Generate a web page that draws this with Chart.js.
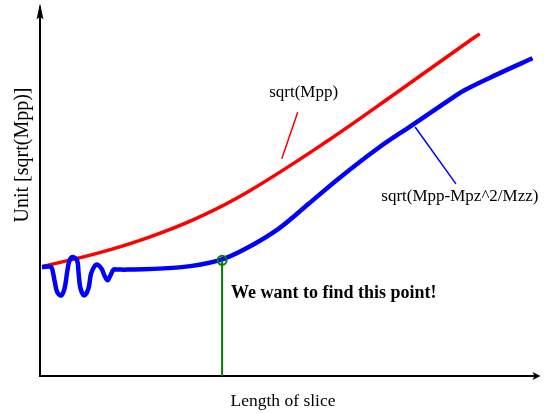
<!DOCTYPE html>
<html><head><meta charset="utf-8">
<script src="https://cdn.jsdelivr.net/npm/chart.js@4/dist/chart.umd.min.js"></script>
<style>html,body{margin:0;padding:0;background:#fff;overflow:hidden}#wrap{width:544px;height:414px;position:relative}</style>
</head><body><div id="wrap"><canvas id="c"></canvas></div>
<script>
// ---- text ----
const xTitle = 'Length of slice';
const yTitle = 'Unit [sqrt(Mpp)]';
const seriesNames = ['sqrt(Mpp)', 'sqrt(Mpp-Mpz^2/Mzz)'];
const noteText = 'We want to find this point!';

// ---- series: sqrt(Mpp) ----
const mppX = [0.4, 12, 22, 32, 42, 58, 72, 86, 88.4];
const mppY = [29.6, 33.4, 37.6, 43.0, 50.0, 63.8, 77.0, 90.4, 92.6];

// ---- series: sqrt(Mpp-Mpz^2/Mzz) ----
const redX = [0.4, 2.2, 2.6, 3.0, 3.46, 4.26, 4.94, 5.46, 5.94, 6.6, 7.46, 7.74, 8.14, 8.94, 9.74, 10.26, 11.06, 11.6, 12.4, 12.94, 13.6, 14.14, 14.8, 15.6,
              17.6, 28, 36, 41.4, 48, 54, 60, 68, 74.6, 81.4, 85.4, 92, 99];
const redY = [29.5, 29.5, 28.0, 25.3, 22.7, 21.8, 23.7, 28.1, 31.3, 32.2, 31.3, 28.1, 23.7, 21.8, 23.7, 27.7, 29.9, 30.1, 29.0, 27.2, 25.9, 27.2, 28.8, 28.8,
              28.8, 29.4, 31.3, 34.5, 39.9, 46.6, 53.4, 61.7, 67.7, 73.9, 77.4, 81.7, 86.0];

// ---- the point we want ----
const targetX = [36.6];
const targetY = [31.3];

const toPts = (xs, ys) => xs.map((x, i) => ({x: x, y: ys[i]}));

const serif = '"Liberation Serif", "Times New Roman", serif';

const decor = {
  id: 'decor',
  afterDatasetsDraw(chart) {
    const ctx = chart.ctx, a = chart.chartArea;
    const xs = chart.scales.x, ys = chart.scales.y;
    const px = v => xs.getPixelForValue(v), py = v => ys.getPixelForValue(v);
    ctx.save();
    // arrowheads
    ctx.fillStyle = '#000';
    ctx.beginPath();
    ctx.moveTo(a.left, a.top - 3);
    ctx.lineTo(a.left - 3.5, a.top + 13);
    ctx.lineTo(a.left, a.top + 10);
    ctx.lineTo(a.left + 3.5, a.top + 13);
    ctx.closePath(); ctx.fill();
    ctx.beginPath();
    ctx.moveTo(a.right + 3, a.bottom);
    ctx.lineTo(a.right - 5, a.bottom - 4);
    ctx.lineTo(a.right - 3, a.bottom);
    ctx.lineTo(a.right - 5, a.bottom + 4);
    ctx.closePath(); ctx.fill();
    // pointer lines
    ctx.lineWidth = 1.5;
    ctx.strokeStyle = '#ff0000';
    ctx.beginPath(); ctx.moveTo(px(51.8), py(71.4)); ctx.lineTo(px(48.6), py(58.8)); ctx.stroke();
    ctx.strokeStyle = '#0000ff';
    ctx.beginPath(); ctx.moveTo(px(75.4), py(67.4)); ctx.lineTo(px(83.6), py(52.0)); ctx.stroke();
    // labels
    ctx.fillStyle = '#000';
    ctx.textBaseline = 'middle';
    ctx.font = '17px ' + serif;
    ctx.textAlign = 'center';
    ctx.fillText(seriesNames[0], px(53), py(76.7));
    ctx.textAlign = 'left';
    ctx.fillText(seriesNames[1], px(68.6), py(48.5));
    ctx.font = 'bold 18px ' + serif;
    ctx.fillText(noteText, px(38.4), py(22.5));
    // axis titles
    ctx.font = '17.5px ' + serif;
    ctx.textAlign = 'center';
    ctx.fillText(xTitle, 283, 401);
    ctx.save();
    ctx.translate(23, 155);
    ctx.rotate(-Math.PI / 2);
    ctx.font = '20px ' + serif;
    ctx.fillText(yTitle, 0, 0);
    ctx.restore();
    ctx.restore();
  }
};

new Chart(document.getElementById('c'), {
  type: 'scatter',
  data: {
    datasets: [
      { label: 'target', data: toPts(targetX, targetY), showLine: false,
        pointRadius: 4.5, pointHoverRadius: 4.5, pointBorderWidth: 2,
        pointBorderColor: '#008000', pointBackgroundColor: 'rgba(0,0,0,0)', order: 0 },
      { label: 'drop', data: [{x: targetX[0], y: 0}, {x: targetX[0], y: targetY[0]}], showLine: true,
        borderColor: '#008000', borderWidth: 2, pointRadius: 0, order: 1 },
      { label: seriesNames[1], data: toPts(redX, redY), showLine: true,
        borderColor: '#0000ff', borderWidth: 4.5, pointRadius: 0,
        tension: 0.35, order: 2 },
      { label: seriesNames[0], data: toPts(mppX, mppY), showLine: true,
        borderColor: '#ff0000', borderWidth: 3.5, pointRadius: 0,
        tension: 0.4, order: 3 }
    ]
  },
  options: {
    responsive: true, maintainAspectRatio: false, animation: false,
    layout: { padding: { left: 32, top: 2, right: 0, bottom: 30 } },
    plugins: { legend: { display: false }, tooltip: { enabled: false } },
    events: [],
    scales: {
      x: { type: 'linear', min: 0, max: 100, grid: { display: false }, ticks: { display: false },
           border: { display: true, color: '#000', width: 2 } },
      y: { type: 'linear', min: 0, max: 100, grid: { display: false }, ticks: { display: false },
           border: { display: true, color: '#000', width: 2 } }
    }
  },
  plugins: [decor]
});
</script>
</body></html>
